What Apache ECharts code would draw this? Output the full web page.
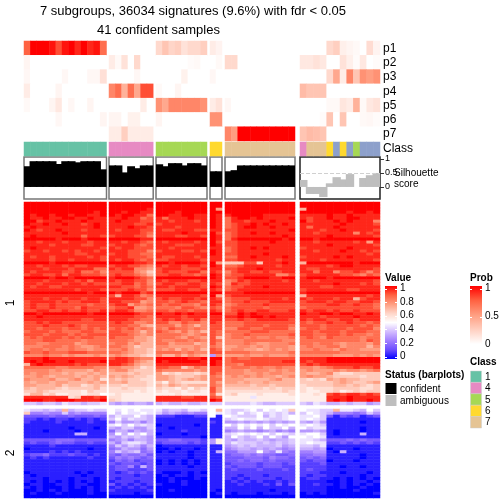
<!DOCTYPE html>
<html><head><meta charset="utf-8">
<style>html,body{margin:0;padding:0;background:#fff}#c{width:504px;height:504px}</style>
<script src="https://cdn.jsdelivr.net/npm/echarts@6/dist/echarts.min.js"></script>
</head><body><div id="c"></div>
<script>
const titleLine1 = "7 subgroups, 36034 signatures (9.6%) with fdr < 0.05";
const titleLine2 = "41 confident samples";
const groupSizes = [13,7,8,2,11,12];
const annoLabels = ["p1","p2","p3","p4","p5","p6","p7"];
// Probabilities per sample, groups in order
const p1 = [.75,1,1,1,.95,.8,.95,1,.9,1,.9,.95,.7, 0,0,0,0,0,0,0, .2,.3,.22,.25,.15,.2,.2,.25, .1,.06, 0,0,0,0,0,0,0,0,0,0,0, 0,0,0,0,.2,.25,.08,.05,.03,0,.18,.06];
const p2 = [.05,0,0,0,0,0,0,0,0,0,0,0,0, .1,.03,.15,0,.2,0,0, 0,0,0,0,0,.02,.03,0, 0,.03, .2,.2,0,0,0,0,0,0,0,0,0, .12,.12,.15,.12,0,0,.15,.08,.02,.12,0,.02];
const p3 = [.04,0,0,0,0,0,.04,0,0,0,.04,.04,.16, 0,0,0,0,.04,0,0, 0,0,0,0,.07,0,0,0, .04,0, 0,0,0,0,0,0,0,0,0,0,0, 0,0,0,0,.2,.45,.1,.6,.3,.55,.5,.55];
const p4 = [.1,0,0,0,0,.05,0,0,0,0,0,0,0, .6,.7,.4,.7,.45,.8,.8, .03,0,0,.05,0,0,0,0, 0,0, 0,0,0,0,0,0,0,0,0,0,0, .35,.3,.3,.3,0,0,0,0,0,0,0,0];
const p5 = [.03,0,0,0,.05,.12,0,.04,0,0,.05,0,0, 0,0,0,0,0,.1,0, .55,.45,.6,.6,.6,.6,.6,.55, .1,.15, .04,0,0,0,0,0,0,0,0,0,0, 0,0,0,0,.03,.03,.13,.1,.4,.03,.12,.15];
const p6 = [0,0,0,0,0,.04,0,0,0,0,0,0,.05, .05,.05,0,.07,.07,0,0, .05,0,0,0,0,0,0,0, .55,.55, 0,0,0,0,0,0,0,0,0,0,0, 0,0,0,.02,.3,0,.3,0,0,.03,.04,.02];
const p7 = [0,0,0,0,0,0,0,0,0,0,0,0,0, .1,.1,.25,.1,.1,.1,.1, 0,0,0,0,0,0,0,0, 0,0, .6,.5,1,1,1,1,1,1,1,1,1, .3,.35,.33,.3,0,0,0,0,0,0,0,0];
const classBySample = [1,1,1,1,1,1,1,1,1,1,1,1,1, 4,4,4,4,4,4,4, 5,5,5,5,5,5,5,5, 6,6, 7,7,7,7,7,7,7,7,7,7,7, 4,7,7,7,6,3,6,3,5,3,3,3];
const silhouette = [.74,.92,.92,.92,.92,.82,.92,.92,.88,.92,.92,.92,.63, .77,.77,.52,.74,.67,.77,.77, .81,.74,.85,.85,.77,.85,.85,.77, .56,.56, .56,.6,.77,.77,.77,.77,.77,.77,.77,.77,.77, .25,-.25,-.25,-.36,.13,.35,.27,.46,0,.32,.42,.5];
const statusByGroup = ["confident","confident","confident","confident","confident","ambiguous"];
const valueTicks = [1,0.8,0.6,0.4,0.2,0];
const probTicks = [1,0.5,0];
const classLegend = [1,4,5,6,7];
const statusLabels = ["confident","ambiguous"];
// Value in twentieths: 0-9 then a-k (a=0.5, k=1). One row per string, groups split by a space.
const heatRows1 = [
"kkkkkkkkkkkkk kkkkkkk kkkkkkkk kk kkkkkkkkkkk kkkkkkkkkkkk",
"kkkkkkkkkkkkk kkkkkkk kkkkkkkk kk kkkkkkkkkkk kkkkkkkkkkkk",
"kkkkkkkkkkkkk kkkkkkj kkkkkkkk kf kkkkkkkkkkk ekkkkkkkkkkk",
"kkkkkkkkkkkjk kkjkkjj kkkjkkkk kk kkkkkkkkkkk kkkkkkkjkkjk",
"kjkkjkkjkkjjk kjkkjjh kkjjkkjj kj jkkkkkjjjjj jjjjkjjkjjjj",
"kjjkjjkkjjkjj jjkjjhi jhjjjkjj kj hjkkjkjjjjk jijjkjjkkjjj",
"kkijjkjjjkjjj jkjjjii jjijjjij kj hjjijjjkjjj kijjjkjkjjjg",
"kjjkjjkjjijkj jjjjiij ijjjjjjj kj hijjkjkjjkj jjjjjjkjjjji",
"jkjjjjjjjjjkj jjjkjji jjjijjjj kj hijkkjjkjjj jhjjjkjjjjjj",
"kjijjkjjjijjj jijjjii jiijjjii jj iijjjjjjjjk jjjijjkjjjji",
"jjjjjjkjjjjjj jjjjjih jjjjkjjj ki hijjkjjkjjj jjijjjjjgjij",
"jkjjjjjjjhjji ijjjiig jjjiijji kj hijjjjjjjkj jjjjkjjjjjji",
"kkkkkjkkkjkkk kkkkkjj kkkkkkkk kj hjkkkkkkkjk kkjkkkkkkkkk",
"jjijjjijjjijj jjijjih jijjjjij ki iijjjjjkjjj jjijjjjjijfj",
"jjjjijjjjiijj ijjjihi jjjiiijj kj iijjjjjjjjj jjjjkjjjjjji",
"jkjjjjjjjjjji jijjiii jjijjjjj jj hijjkjkjjjj ijjjjjjkjjjj",
"ijjijjijijjij jjjiiig ijjjiiji kj hijjjjjjjjj jjijjjkjjiji",
"jjjjjjjjiijjj ijjiihh jjjjjjjj kj iijjjjkjjjj jjjjjjjjjjij",
"jijjijjjjjiji jjjiiih jiijjjij jj hhjjkjjjjkj ijjjjkjkjjjj",
"jjjjijjijjjji jijjihi iijjjjji jj iijjjjjjijj jjjijjjjjjji",
"kkkkjkkkkkkkk kkkkjji kkjkkkkj kf dddiidjjjkj ekkkkkkkjkkk",
"jjijjjijiijjj ijjiihg jijjijji kj hhijjjjjijj jjjjijkkjjjj",
"jjjijjjijjjhh jijjggf ijjjiiij jj iijjjkjjjjj jiijjjjjjjji",
"jijjjjiijhhig iiiigfd ijiiijjh ji gijjiijiijj jjhjjgiijigi",
"ijjiijhjjiiih ijiihge iijjiihi kj hiijjjjjggi ijjjjjiihgih",
"kkkkjkkjkkkkk jkkkjih kkkkkkkk kj iijkkkkjjkk jkkkjkkkkkkk",
"jjjijjjjijhjj jijjiig jijjjiij jj ghjijjjjjij jjijjjjjjjji",
"jjijjjijjijii iijjhig ijjiijji ji gjiijjjjjjj jjjjjkjjjiji",
"jijjiijjjjjjj jjiihih jjijjjji kj hiijjjkjjjj jjjiijjjjjjj",
"jjjjjjjjijjji iiijiig iiijjiij ji hijjjjjjjjj ijjjjjjiijjj",
"kkkkkkkkkkjkk kjkkkij kkkkkkkk kk jjjkkkkkkkk jkkkkkkkkkkk",
"jjjjjjjjjjjjj iejjigh jjjjjjji kf ijjjjjjjjjj ejjjjjjjjjij",
"jjjijjijjijji jjjjiig ijiijjij ji hiiijjjjjij jijjjijjeijj",
"ijjjjijiijjji jjiiifg iihijiih jj hiijiiijjjj ijjjijjiijji",
"ijiijiiiiihii ijjfhgh ihiihhgi ji ghiiiijiiii iiiijjiijiih",
"ijiijiiihjiii hiijffg hhhgiihg ih hiiiiihiiii hiiiiiiiiiih",
"iijjiijiijiij ijjiggh iihiihii ji hijiijjiiij jijjijiijiii",
"kkjkkkkkkkjkk kkkkjii kjjkjkjj kk iikjkjjjjjj kjjkkjkkjjkj",
"jjkjjjjjjjjjj jjjjiih jjjjijjj jj jjkjkkjkjjj jjjijjjjkjjj",
"jjjjjjjjjiijj jjjiihh ijijiijh jj iijiijjjjji jijjiijjijjj",
"iijijjiiiiiii ijiiggh iiggihhg ji hhhiiiiiiii ihiijiijiihi",
"iiijiiijihiii iiihhfe hhhfhgeg ii hhhiiihiiih iiihiiiiihih",
"iihiiihiihihi hihighg hgihhghg ii ggiihhiiiig hiihiiihiiig",
"hiiihihhhiihh iihhgeg ihgfhfge ih hhhhiiihhhh iihiiihiiihh",
"iiihiiihihiii iiihgfg hhhhgfgh ih ghhihhhhhhi iihhiihihhgh",
"hihiiihihiihh ihhhffe hhhgfhgf ie ghhghgghggh hihgihhhhghh",
"hhhiihhhhghhh hhhgffe hgghhghg ih ggghhhhhhgg hhhhhhhhhgih",
"hhgghhhhfghhh ghhfgee hhfgggef ig ggghgffgggh hhghhgfgggfh",
"ggghhhghgffgh hhgfdee ggffffgf hg ffggfgfgggf ghgghhfgggeg",
"ghhghgghggfgg gghfeed gfgegfge ih fggffefgfgf gghggfhggfff",
"ihhihhhiiihhh hhgfeed hhhhghgg ii hhhhggggggh hhhhhhgggggg",
"ggghggfgfffgf fgfeedc geegegfe 6g fffgffgfffg gggggfffgfgf",
"jjjkjjjjjjjjj ijjihgg kkkkkjjk kk hihhiiiiiii jjjjkkkkkkkk",
"jkjkkjjkjjjjk jjjigfe kjkkkkkj kj hiiiiiiiijj jijjkkkkkkkk",
"ejkjjjjjijiii jjihfee jjjjjjjj kj hhgiiiiiiii ijijjjjjjjjj",
"hhhhhgghhhhgg ggffecd iihhdfhg ii ghhhghgghgg ggfghiiijiij",
"ggggfgffffegf fggeddd hgggggfg ii gggfgggfgfg fgfffgfggfgh",
"gfggffefeefef eeededd fcdcddcd ih gggffgfggff feefgdccdddd",
"ffgfefffefefe fefeddc ffedddef hg fgfgfgffefg fgffeddddcdd",
"gfffgeefgeefc ededdcc ffedefef hh fffeeeefgee dcdcfefeeddd",
"feffeffeeefef eefdddc dbedcccc hf ffefeefeeee dddddefeddef",
"ffeeefdeecded ddcdddc edfedeee hg eeeedeedeee cddddeededcd",
"edeeedcddddec ccdcccb dccbdbdc if ddddddcdcdd cbcccddddccd",
"ddedcccccbdcc ccccbcb cbccbccb if cccccccccdc cbbccdbcdcdd",
"ceecdbbccbcca bcbbbbb bbbcbbbb hc cdbbbcbbbbc bbcbijijjiji",
"jjjjjjjcdjjij ccbbbbb jjjjiijj ih bbbb9bbbbbb bbbbjjjkjjjj",
"kkkjjkkkjjjjk dcbbbbb jjjjjjjj kj bbbbbbbbbbb bbbbjkjkjjkj",
"8878879887889 7676776 78778778 88 88889877888 879877878867"
];
const heatRows2 = [
"988787e788988 a9a9a99 97887998 ae 9889a8a9a9d a9988e9987a8",
"d556558565555 a8a99a9 86765655 a9 98a89a89897 8a9875554586",
"3333433433343 7988a87 22211122 a1 a9888a7989a 99a831323123",
"2212122121212 8a79887 11111111 11 89a99a9889a 9a9811111111",
"2111121111211 5866757 11111111 21 66767676767 768611111011",
"1111111111111 9a8a898 01111101 11 a8a9a9a8a9a 9a9811111111",
"1111111011101 7688668 11011111 11 77a8a7a88a7 a89911111011",
"1110111101111 4775767 11112111 11 56766567565 667610111011",
"1111111177111 6a7a8a7 01110111 11 89a9a9a8a98 9aa810111711",
"1111111111111 7687876 11111110 11 7a878a7a86a a9a911111111",
"3333344433333 5675776 33443332 6b 76877876778 998733343433",
"2322343322322 7589986 23333232 6b 79888787878 9a9922323232",
"1111211111111 5868757 01111111 11 67878777867 887911111111",
"0111111111011 4576646 00101101 11 56776767656 776701110111",
"1111212121111 5867845 01011011 17 44666a65954 556610711111",
"2334222322121 4354453 11111011 11 34454544334 445511111011",
"1212111111211 3545434 11111011 11 33344435443 343411111011",
"1111111111111 2434233 01010101 11 33434434333 323301110111",
"1111111111111 3233323 01010101 11 23333233323 222311111111",
"1111111111111 2335273 11111011 11 32333233322 222211011011",
"1111111111111 2332223 11111111 11 23222322232 232211111111",
"0111111101011 2123232 10001010 11 22222222222 222111011101",
"1011111110111 2222122 01011011 11 22122212222 212211111011",
"1110111011101 2122222 00100010 11 21212222122 122110101010",
"1010101010101 1222122 00101000 11 12121211212 111100101101",
"0110011011001 3121212 10001000 11 11211121313 112110101010",
"1010001010101 1212121 00000000 11 11111111111 111100100100",
"0010101000101 2111112 00100000 10 11111110111 111100001000",
"0100010000100 1111011 00000000 01 10111011101 010100000001",
"0000000000000 0000000 00000000 00 00000000000 000000000000"
];

const FONT = "Liberation Sans";
const valueColors = ['#0000ff','#6a4dff','#a27fff','#d3bcff','#ffffff','#ffd5c8','#ff9e81','#ff6242','#ff0000'];
const probColors = ['#ffffff','#ffcfc0','#ff9e81','#ff6242','#ff0000'];
const classColors = {1:'#66C2A5',3:'#8DA0CB',4:'#E78AC3',5:'#A6D854',6:'#FFD92F',7:'#E5C494'};
const groupX = [[24,82.5],[109,44.2],[156,51],[210,12],[225,70],[300,80]];
const ALPHA = "0123456789abcdefghijk";

const grids=[],xAxes=[],yAxes=[],series=[];
const mainIdx=[],probIdx=[],classIdx=[];
function addGrid(left,top,width,height,extra,yExtra,xData,yType){
  const i=grids.length;
  grids.push(Object.assign({left,top,width,height,containLabel:false,show:false},extra||{}));
  xAxes.push({type:'category',gridIndex:i,show:false,data:xData});
  yAxes.push(Object.assign(yType==='value'?{type:'value',gridIndex:i}:{type:'category',gridIndex:i,show:false,inverse:true},yExtra||{}));
  return i;
}
function heat(i,data,list){
  list.push(series.length);
  series.push({type:'heatmap',xAxisIndex:i,yAxisIndex:i,data,silent:true,progressive:0,animation:false,itemStyle:{borderWidth:0},emphasis:{disabled:true}});
}
const idx=n=>Array.from({length:n},(_,k)=>k);
const annoRows=[p1,p2,p3,p4,p5,p6,p7];
let offset=0;
groupSizes.forEach((n,g)=>{
  const [x,w]=groupX[g];
  const xData=idx(n);
  let i=addGrid(x,41,w,100,null,{data:annoLabels},xData);
  const pd=[]; annoRows.forEach((row,r)=>{for(let c=0;c<n;c++)pd.push([c,r,row[offset+c]]);});
  heat(i,pd,probIdx);
  i=addGrid(x,142,w,14,null,{data:['Class']},xData);
  heat(i,xData.map(c=>[c,0,classBySample[offset+c]]),classIdx);
  const amb=statusByGroup[g]==='ambiguous';
  i=addGrid(x,157,w,42,{show:true,borderColor:amb?'#222':'#777',borderWidth:1.5,backgroundColor:'#fff'},
    {min:-0.43,max:1.07,show:amb,position:'right',splitLine:{show:false},axisLine:{show:false},
     axisTick:{show:true,length:4,customValues:[0,0.5,1],lineStyle:{color:'#333'}},
     axisLabel:{show:true,customValues:[0,0.5,1],margin:5,fontSize:9,fontFamily:FONT,color:'#000',formatter:v=>String(v)}},xData,'value');
  const barCol=amb?'#BEBEBE':'#000';
  const s={type:'bar',xAxisIndex:i,yAxisIndex:i,barWidth:'125%',silent:true,animation:false,clip:true,
    data:silhouette.slice(offset,offset+n),itemStyle:{color:barCol}};
  if(amb) s.markLine={silent:true,symbol:'none',label:{show:false},animation:false,lineStyle:{color:'#d0d0d0',type:'dashed',width:1},data:[{yAxis:0.5}]};
  series.push(s);
  [[heatRows1,202,203],[heatRows2,409,89]].forEach(([rows,top,h])=>{
    const gi=addGrid(x,top,w,h,null,{data:idx(rows.length)},xData);
    const d=[];
    rows.forEach((str,r)=>{
      const parts=str.split(' ')[g];
      for(let c=0;c<n;c++) d.push([c,r,ALPHA.indexOf(parts[c])/20]);
    });
    heat(gi,d,mainIdx);
  });
  offset+=n;
});

const graphic=[];
const txt=(text,x,y,size,opts)=>graphic.push(Object.assign({type:'text',x,y,silent:true,style:Object.assign({text,fontFamily:FONT,fontSize:size,fill:'#000',textVerticalAlign:'middle',textBaseline:'middle'},opts&&opts.style||{})},opts&&opts.el||{}));
const rect=(x,y,w,h,fill)=>graphic.push({type:'rect',silent:true,shape:{x,y,width:w,height:h},style:{fill}});
const line=(x1,y1,x2,y2,c)=>graphic.push({type:'line',silent:true,shape:{x1,y1,x2,y2},style:{stroke:c,lineWidth:1}});

annoLabels.forEach((t,k)=>txt(t,383,[49,63,77,92,106,120,134][k],12));
txt('Class',383,149,12);
txt('Silhouette',394,173,10);
txt('score',394,184,10);
txt('1',11,303,12,{el:{rotation:Math.PI/2},style:{align:'center'}});
txt('2',11,453,12,{el:{rotation:Math.PI/2},style:{align:'center'}});

txt('Value',385,278,10,{style:{fontWeight:'bold'}});
const grad=(cols)=>({type:'linear',x:0,y:0,x2:0,y2:1,colorStops:cols.slice().reverse().map((c,k)=>({offset:k/(cols.length-1),color:c}))});
rect(385,286,12,73,grad(valueColors));
valueTicks.forEach((v,k)=>{
  const y=288.5+k*13.6;
  txt(String(v),400,y,10);
  line(385,Math.round(y)+.5,387,Math.round(y)+.5,'#fff');
  line(395,Math.round(y)+.5,397,Math.round(y)+.5,'#fff');
});
txt('Prob',470,278,10,{style:{fontWeight:'bold'}});
rect(470,286,12,58,grad(probColors));
probTicks.forEach((v,k)=>{
  const y=288.5+k*28;
  txt(String(v),485,y,10);
  line(470,Math.round(y)+.5,472,Math.round(y)+.5,'#fff');
  line(480,Math.round(y)+.5,482,Math.round(y)+.5,'#fff');
});
txt('Class',470,362,10,{style:{fontWeight:'bold'}});
classLegend.forEach((c,k)=>{
  const y=371+k*11.4;
  graphic.push({type:'rect',silent:true,shape:{x:470.5,y:y,width:11,height:11.4},style:{fill:classColors[c],stroke:'#ccc',lineWidth:.5}});
  txt(String(c),485,y+6,10);
});
txt('Status (barplots)',385,375,10,{style:{fontWeight:'bold'}});
[['#000',383],['#BEBEBE',395]].forEach(([col,y],k)=>{
  rect(385.5,y,11,11,col);
  txt(statusLabels[k],400,y+6,10);
});

const option={
  animation:false,backgroundColor:'#fff',
  title:[
    {text:titleLine1,left:188,top:0,textAlign:'center',textStyle:{fontFamily:FONT,fontSize:13,fontWeight:'normal',color:'#000'}},
    {text:titleLine2,left:153.5,top:19,textAlign:'center',textStyle:{fontFamily:FONT,fontSize:13,fontWeight:'normal',color:'#000'}}
  ],
  grid:grids,xAxis:xAxes,yAxis:yAxes,series,
  visualMap:[
    {type:'continuous',show:false,min:0,max:1,seriesIndex:mainIdx,inRange:{color:valueColors}},
    {type:'continuous',show:false,min:0,max:1,seriesIndex:probIdx,inRange:{color:probColors}},
    {type:'piecewise',show:false,seriesIndex:classIdx,dimension:2,pieces:Object.keys(classColors).map(k=>({value:+k,color:classColors[k]}))}
  ],
  graphic
};
const chart=echarts.init(document.getElementById('c'),null,{renderer:'canvas',width:504,height:504});
chart.setOption(option);
</script></body></html>
